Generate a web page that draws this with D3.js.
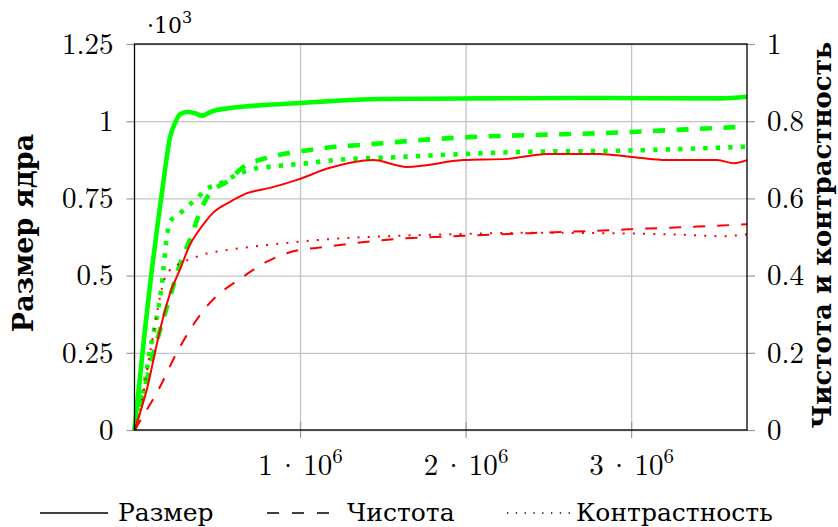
<!DOCTYPE html>
<html>
<head>
<meta charset="utf-8">
<script src="https://cdn.jsdelivr.net/npm/d3@7"></script>
<style>
  body { margin: 0; background: #fff; }
  text { font-family: "Latin Modern Roman", "Liberation Serif", serif; fill: #000; }
  text.cyr { font-family: "DejaVu Serif", serif; }
  text.bold { font-family: "DejaVu Serif", serif; font-weight: bold; }
</style>
</head>
<body>
<div id="chart"></div>
<script>
// x в единицах 10^6, левая ось (размер) в абсолютных значениях, правая ось 0..1
const xTicks = [1, 2, 3];
const leftTicks = [0, 250, 500, 750, 1000, 1250];
const rightTicks = [0, 0.2, 0.4, 0.6, 0.8, 1];
const legendLabels = ['Размер', 'Чистота', 'Контрастность'];

// Размер ядра (левая ось)
const sizeGreen = [[0, 0], [0.094, 470], [0.172, 793], [0.215, 949], [0.245, 994], [0.275, 1023], [0.317, 1030],
  [0.366, 1026], [0.408, 1018], [0.456, 1029], [0.498, 1036], [0.776, 1052], [1.0, 1059], [1.181, 1065],
  [1.483, 1072], [2.088, 1074], [2.813, 1075], [3.538, 1074], [3.70, 1079]];
const sizeRed = [[0, 0], [0.074, 130], [0.154, 324], [0.215, 443], [0.275, 520], [0.335, 600], [0.378, 638],
  [0.436, 680], [0.474, 703], [0.577, 739], [0.68, 767], [0.819, 784], [0.982, 810], [1.181, 849], [1.441, 874],
  [1.646, 852], [1.985, 874], [2.25, 878], [2.49, 894], [2.81, 894], [2.99, 885], [3.22, 874], [3.52, 874],
  [3.62, 864], [3.70, 874]];

// Чистота (правая ось)
const purityGreen = [[0, 0], [0.074, 0.13], [0.154, 0.259], [0.215, 0.345], [0.275, 0.43], [0.341, 0.50],
  [0.396, 0.565], [0.456, 0.614], [0.559, 0.643], [0.656, 0.681], [0.801, 0.705], [0.94, 0.718], [1.10, 0.728],
  [1.50, 0.743], [1.785, 0.753], [2.09, 0.76], [2.39, 0.764], [2.81, 0.769], [3.25, 0.777], [3.70, 0.786]];
const purityRed = [[0, 0], [0.074, 0.052], [0.154, 0.112], [0.255, 0.20], [0.436, 0.32], [0.656, 0.397],
  [0.80, 0.436], [0.92, 0.458], [1.199, 0.477], [1.586, 0.495], [1.985, 0.503], [2.39, 0.51], [2.83, 0.517],
  [3.10, 0.522], [3.40, 0.527], [3.70, 0.533]];

// Контрастность (правая ось)
const contrastGreen = [[0, 0], [0.051, 0.095], [0.094, 0.207], [0.142, 0.311], [0.166, 0.38], [0.195, 0.50],
  [0.215, 0.54], [0.263, 0.557], [0.317, 0.578], [0.378, 0.60], [0.426, 0.622], [0.498, 0.635], [0.637, 0.665],
  [0.698, 0.674], [0.861, 0.684], [1.018, 0.69], [1.224, 0.70], [1.586, 0.707], [1.985, 0.715], [2.39, 0.721],
  [2.855, 0.723], [3.70, 0.734]];
const contrastRed = [[0, 0], [0.033, 0.05], [0.094, 0.2], [0.19, 0.40], [0.26, 0.428], [0.34, 0.443],
  [0.426, 0.456], [0.557, 0.466], [0.80, 0.479], [1.16, 0.494], [1.586, 0.503], [1.985, 0.508], [2.39, 0.511],
  [2.83, 0.51], [3.3, 0.506], [3.55, 0.502], [3.70, 0.507]];

const width = 838, height = 527;
const margin = { LEFT: 134.5, RIGHT: 91, TOP: 44, BOTTOM: 97 };
const WIDTH = width - margin.LEFT - margin.RIGHT;
const HEIGHT = height - margin.TOP - margin.BOTTOM;

const GREEN = '#00ff00', RED = '#ff0000', GRID = '#c4c4c4';
const FONT = 29;

const svg = d3.select('#chart').append('svg')
  .attr('width', width)
  .attr('height', height);

const g = svg.append('g')
  .attr('transform', `translate(${margin.LEFT}, ${margin.TOP})`);

// scales
const x = d3.scaleLinear().domain([0, 3.7]).range([0, WIDTH]);
const yL = d3.scaleLinear().domain([0, 1250]).range([HEIGHT, 0]);
const yR = d3.scaleLinear().domain([0, 1]).range([HEIGHT, 0]);

// grid
g.append('g')
  .call(d3.axisBottom(x).tickValues(xTicks).tickSize(HEIGHT).tickFormat(''))
  .call(s => s.select('.domain').remove())
  .call(s => s.selectAll('line').attr('stroke', GRID).attr('stroke-width', 1.3));

g.append('g')
  .call(d3.axisLeft(yL).tickValues(leftTicks).tickSize(-WIDTH).tickFormat(''))
  .call(s => s.select('.domain').remove())
  .call(s => s.selectAll('line').attr('stroke', GRID).attr('stroke-width', 1.3));

// axes
const styleAxis = s => {
  s.attr('font-family', null).attr('font-size', null);
  s.select('.domain').remove();
  s.selectAll('line').attr('stroke', '#999').attr('stroke-width', 1.2);
  s.selectAll('text').attr('font-size', FONT).attr('fill', '#000');
};

g.append('g')
  .call(d3.axisLeft(yL).tickValues(leftTicks).tickSize(8).tickPadding(13).tickFormat(v => String(v / 1000)))
  .call(styleAxis)
  .call(s => s.selectAll('text').attr('dy', '0.32em'));

g.append('g')
  .attr('transform', `translate(${WIDTH}, 0)`)
  .call(d3.axisRight(yR).tickValues(rightTicks).tickSize(8).tickPadding(12).tickFormat(v => String(v)))
  .call(styleAxis)
  .call(s => s.selectAll('text').attr('dy', '0.32em'));

const xAxis = g.append('g')
  .attr('transform', `translate(0, ${HEIGHT})`)
  .call(d3.axisBottom(x).tickValues(xTicks).tickSize(8).tickPadding(0).tickFormat(''))
  .call(styleAxis);

// подписи вида «1 · 10^6»
xAxis.selectAll('.tick line').attr('y1', -8);
xAxis.selectAll('.tick').append('text')
  .attr('y', 45)
  .attr('text-anchor', 'middle')
  .attr('font-size', FONT)
  .each(function(d) {
    const t = d3.select(this);
    t.append('tspan').text(d);
    t.append('tspan').attr('dx', 4).text('·');
    t.append('tspan').attr('dx', 4).text('10');
    t.append('tspan').attr('font-size', 21).attr('dy', -12).text('6');
  });

// lines
const series = [
  { data: sizeGreen, y: yL, color: GREEN, w: 4.6, dash: null },
  { data: purityGreen, y: yR, color: GREEN, w: 4.6, dash: '12,11.5' },
  { data: contrastGreen, y: yR, color: GREEN, w: 4.6, dash: '4.3,8.2' },
  { data: sizeRed, y: yL, color: RED, w: 2, dash: null },
  { data: purityRed, y: yR, color: RED, w: 2, dash: '12,12' },
  { data: contrastRed, y: yR, color: RED, w: 2, dash: '2,8.2' }
];

series.forEach(s => {
  const line = d3.line()
    .x(d => x(d[0]))
    .y(d => s.y(d[1]))
    .curve(d3.curveMonotoneX);

  g.append('path')
    .attr('d', line(s.data))
    .attr('fill', 'none')
    .attr('stroke', s.color)
    .attr('stroke-width', s.w)
    .attr('stroke-linejoin', 'round')
    .attr('stroke-dasharray', s.dash);
});

// frame
g.append('rect')
  .attr('width', WIDTH)
  .attr('height', HEIGHT)
  .attr('fill', 'none')
  .attr('stroke', '#000')
  .attr('stroke-width', 1.3);

// multiplier
const mult = g.append('text')
  .attr('class', 'cyr')
  .attr('x', 147 - margin.LEFT)
  .attr('y', 33 - margin.TOP)
  .attr('font-size', 22);
mult.append('tspan').text('·10');
mult.append('tspan').attr('font-size', 16).attr('dy', -10).text('3');

// axis labels
svg.append('text')
  .attr('class', 'bold')
  .attr('transform', `translate(33, ${margin.TOP + HEIGHT / 2 - 4}) rotate(-90)`)
  .attr('text-anchor', 'middle')
  .attr('font-size', 27)
  .text('Размер ядра');

svg.append('text')
  .attr('class', 'bold')
  .attr('transform', `translate(831, ${margin.TOP + HEIGHT / 2 - 2}) rotate(-90)`)
  .attr('text-anchor', 'middle')
  .attr('font-size', 26)
  .text('Чистота и контрастность');

// legend
const legendItems = [
  { label: legendLabels[0], x0: 40, x1: 108, tx: 118, dash: null },
  { label: legendLabels[1], x0: 267, x1: 329, tx: 347, dash: '12,13' },
  { label: legendLabels[2], x0: 507, x1: 570, tx: 576, dash: '1.3,7.5' }
];

const legend = svg.append('g');
legendItems.forEach(it => {
  legend.append('line')
    .attr('x1', it.x0).attr('x2', it.x1)
    .attr('y1', 513).attr('y2', 513)
    .attr('stroke', '#000')
    .attr('stroke-width', 1.4)
    .attr('stroke-dasharray', it.dash);
  legend.append('text')
    .attr('class', 'cyr')
    .attr('x', it.tx)
    .attr('y', 521)
    .attr('font-size', 25)
    .text(it.label);
});
</script>
</body>
</html>
